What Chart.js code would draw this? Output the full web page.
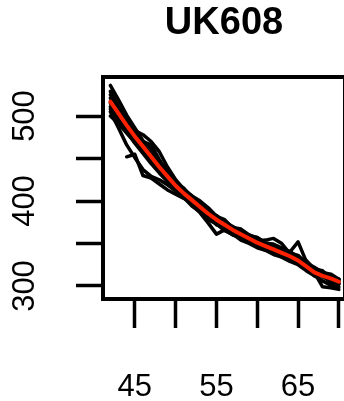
<!DOCTYPE html>
<html>
<head>
<meta charset="utf-8">
<script src="https://cdn.jsdelivr.net/npm/chart.js@4/dist/chart.umd.min.js"></script>
<style>
  html, body { margin: 0; padding: 0; background: #fff; overflow: hidden; }
  #wrap { width: 344px; height: 401px; overflow: hidden; }
</style>
</head>
<body>
<div id="wrap"><canvas id="c" width="360" height="401"></canvas></div>
<script>
// ages on the x axis
const ages = [42, 43, 44, 45, 46, 47, 48, 49, 50, 51, 52, 53, 54, 55, 56, 57, 58, 59, 60, 61, 62, 63, 64, 65, 66, 67, 68, 69, 70];

// individual curves (black)
const run1 = [536, 519, 501, 486, 471, 461, 447, 436, 422, 415, 404, 398, 388, 383, 375, 370, 363, 360, 353, 354, 356, 350, 338, 333, 327, 318, 316, 310, 308];
const run2 = [529, 511, 495, 481, 470, 466, 449, 433, 420, 409, 401, 388, 385, 374, 371, 362, 363, 352, 351, 344, 345, 335, 336, 326, 324, 312, 313, 304, 303];
const run3 = [521, 506, 494, 483, 478, 470, 458, 440, 425, 414, 406, 400, 392, 382, 378, 368, 366, 359, 357, 351, 349, 345, 339, 336, 327, 322, 316, 314, 308];
const run4 = [511, 497, 485, 472, 459, 447, 436, 426, 416, 404, 397, 389, 383, 372, 369, 362, 358, 351, 349, 342, 340, 334, 331, 329, 322, 316, 299, 298, 296];
const run5 = [515, 501, 487, 474, 462, 450, 439, 429, 419, 410, 402, 393, 386, 379, 372, 367, 361, 356, 352, 348, 346, 344, 340, 352, 329, 318, 313, 309, 306];
const run6 = [505, 486, 466, 451, 437, 429, 425, 419, 412, 404, 396, 386, 374, 361, 366, 360, 357, 353, 350, 345, 341, 337, 333, 328, 322, 317, 311, 306, 302];
const run7 = [null, null, 452, 455, 430, 427, 420, 413, 408, 403, 399, 392, 384, 377, 371, 365, 360, 355, 350, 346, 342, 338, 334, 328, 322, 316, 311, 307, 303];
const run8 = [500, 491, 480, 469, 458, 448, 438, 428, 419, 411, 403, 395, 387, 380, 375, 369, 364, 358, 354, 350, 346, 341, 337, 331, 327, 320, 315, 311, 307];
const run9 = [525, 508, 490, 478, 466, 455, 444, 432, 424, 412, 406, 395, 391, 381, 377, 369, 367, 360, 357, 350, 349, 342, 341, 333, 330, 320, 318, 309, 308];
const run10 = [508, 494, 482, 468, 456, 444, 433, 423, 413, 404, 394, 387, 378, 373, 365, 361, 354, 350, 345, 342, 337, 334, 329, 325, 318, 312, 306, 301, 299];
const runs = [run1, run2, run3, run4, run5, run6, run7, run8, run9, run10];

// fitted curve (red)
const fitted = [517, 503, 489, 476, 464, 452, 440, 429, 418, 409, 401, 393, 385, 378, 372, 366, 361, 356, 351, 347, 343, 339, 335, 330, 323, 316, 312, 309, 305];

const xTicks = [45, 50, 55, 60, 65, 70];
const xLabels = [45, 55, 65];
const yTicks = [300, 350, 400, 450, 500];
const yLabels = [300, 400, 500];

const toPoints = vals => ages.map((a, i) => ({ x: a, y: vals[i] }));

const datasets = [{
  data: toPoints(fitted),
  borderColor: '#ff2200',
  borderWidth: 4,
  pointRadius: 0,
  tension: 0,
  borderJoinStyle: 'round',
  borderCapStyle: 'round',
  order: 0
}].concat(runs.map(r => ({
  data: toPoints(r),
  borderColor: '#000',
  borderWidth: 3.5,
  pointRadius: 0,
  tension: 0,
  spanGaps: false,
  borderJoinStyle: 'round',
  borderCapStyle: 'round',
  order: 1
})));

// plot frame
const boxPlugin = {
  id: 'box',
  afterDatasetsDraw(chart) {
    const { ctx, chartArea: a } = chart;
    ctx.save();
    ctx.strokeStyle = '#000';
    ctx.lineWidth = 4;
    ctx.strokeRect(a.left, a.top, a.right - a.left, a.bottom - a.top);
    ctx.restore();
  }
};

// rotated y labels, R style
const yLabelPlugin = {
  id: 'yLabels',
  afterDraw(chart) {
    const { ctx } = chart;
    const y = chart.scales.y;
    ctx.save();
    ctx.font = '31px "Liberation Sans", Arial, sans-serif';
    ctx.fillStyle = '#000';
    ctx.textAlign = 'center';
    ctx.textBaseline = 'middle';
    yLabels.forEach(v => {
      ctx.save();
      ctx.translate(25, y.getPixelForValue(v));
      ctx.rotate(-Math.PI / 2);
      ctx.fillText(String(v), 0, 0);
      ctx.restore();
    });
    ctx.restore();
  }
};

new Chart(document.getElementById('c'), {
  type: 'line',
  data: { datasets },
  plugins: [boxPlugin, yLabelPlugin],
  options: {
    responsive: false,
    animation: false,
    devicePixelRatio: 1,
    layout: { padding: { left: 0, right: 15, top: 0, bottom: 0 } },
    plugins: {
      legend: { display: false },
      tooltip: { enabled: false },
      title: {
        display: true,
        text: 'UK608',
        fullSize: false,
        color: '#000',
        font: { family: '"Liberation Sans", Arial, sans-serif', size: 38, weight: 'bold' },
        padding: { top: 1, bottom: 30.4 }
      }
    },
    scales: {
      x: {
        type: 'linear',
        min: 41.1,
        max: 70.75,
        afterBuildTicks: s => { s.ticks = xTicks.map(v => ({ value: v })); },
        afterFit: s => { s.height = 102; s.paddingLeft = 0; s.paddingRight = 0; },
        border: { display: false },
        grid: { drawOnChartArea: false, drawTicks: true, tickLength: 29, tickWidth: 3.5, tickColor: '#000' },
        ticks: {
          color: '#000',
          padding: 41,
          maxRotation: 0,
          autoSkip: false,
          font: { family: '"Liberation Sans", Arial, sans-serif', size: 31 },
          callback: v => xLabels.includes(v) ? String(v) : ''
        }
      },
      y: {
        type: 'linear',
        min: 284.7,
        max: 545.9,
        afterBuildTicks: s => { s.ticks = yTicks.map(v => ({ value: v })); },
        afterFit: s => { s.width = 103; s.paddingTop = 0; s.paddingBottom = 0; },
        border: { display: false },
        grid: { drawOnChartArea: false, drawTicks: true, tickLength: 27, tickWidth: 3.5, tickColor: '#000' },
        ticks: { display: false }
      }
    }
  }
});
</script>
</body>
</html>
